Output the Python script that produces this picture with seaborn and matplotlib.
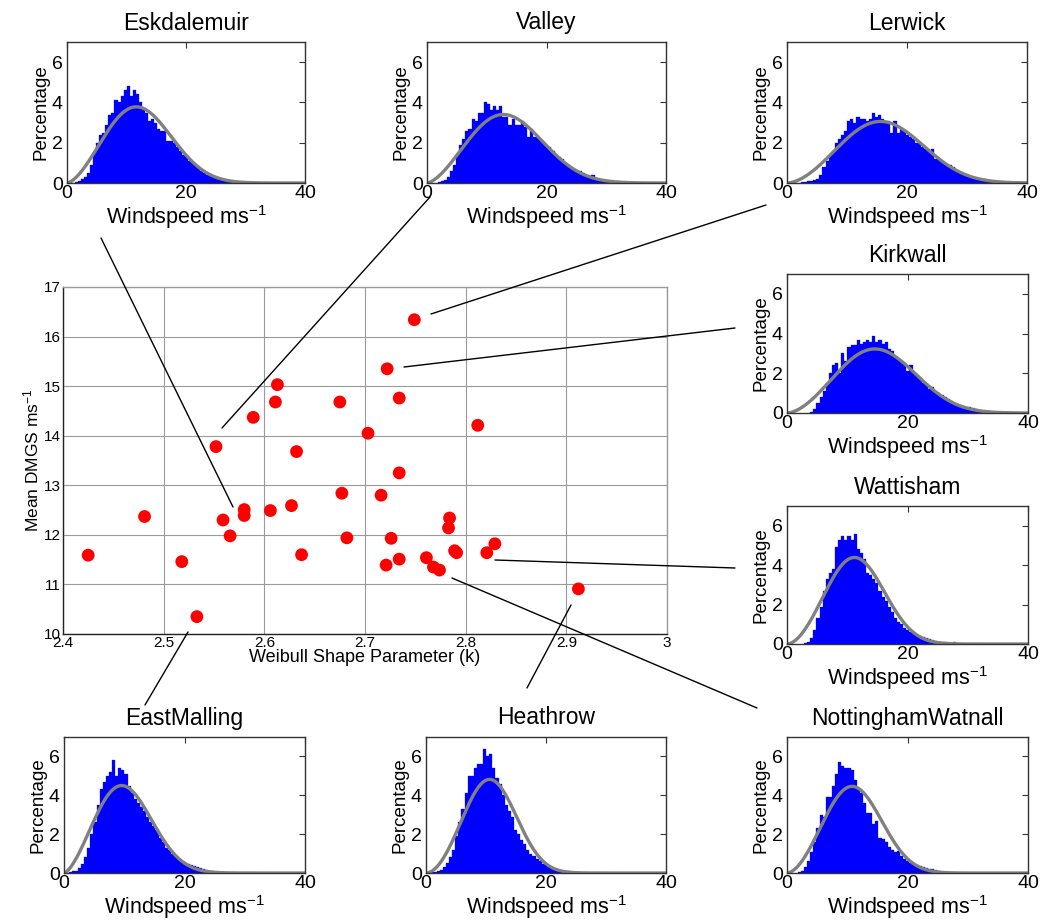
import math
import numpy as np
import pandas as pd
import matplotlib
matplotlib.use("Agg")
import matplotlib.pyplot as plt
from matplotlib.lines import Line2D
import seaborn as sns

# ---------------- data ----------------
KNOT = 0.5144  # histogram bins are 1 knot wide (m/s)

# central scatter: Weibull shape parameter vs mean DMGS for all stations
shape_k = [2.425, 2.481, 2.518, 2.533, 2.552, 2.559, 2.566, 2.580, 2.580, 2.589,
           2.606, 2.613, 2.611, 2.627, 2.632, 2.637, 2.675, 2.677, 2.682, 2.703,
           2.716, 2.722, 2.721, 2.726, 2.734, 2.734, 2.734, 2.749, 2.761, 2.768,
           2.774, 2.784, 2.783, 2.789, 2.791, 2.812, 2.821, 2.829, 2.912]
mean_dmgs = [11.59, 12.37, 11.46, 10.35, 13.78, 12.30, 11.98, 12.51, 12.39, 14.37,
             12.49, 15.03, 14.68, 12.59, 13.68, 11.60, 14.68, 12.84, 11.94, 14.05,
             12.80, 15.35, 11.39, 11.93, 14.76, 13.25, 11.51, 16.34, 11.54, 11.35,
             11.29, 12.34, 12.14, 11.68, 11.64, 14.21, 11.64, 11.82, 10.91]

stations = ["Eskdalemuir", "Valley", "Lerwick", "Kirkwall", "Wattisham",
            "EastMalling", "Heathrow", "NottinghamWatnall"]
station_k = [2.580, 2.552, 2.749, 2.722, 2.821, 2.533, 2.912, 2.774]
station_mean = [12.51, 13.78, 16.34, 15.35, 11.64, 10.35, 10.91, 11.29]
first_knot = [3, 4, 5, 8, 6, 2, 2, 4]

esk_pct = [0.05, 0.1, 0.2, 0.3, 0.5, 0.9, 1.5, 2.0, 2.4, 2.5,
           2.9, 3.4, 3.5, 4.1, 4.0, 4.3, 4.6, 4.8, 4.3, 4.6,
           4.4, 4.0, 3.7, 3.5, 3.1, 3.2, 3.0, 2.7, 2.6, 2.6,
           2.1, 2.1, 2.0, 1.8, 1.6, 1.4, 1.4, 1.1, 1.0, 0.9,
           0.8, 0.6, 0.5, 0.4, 0.35, 0.3, 0.25, 0.2, 0.2, 0.15,
           0.12, 0.1, 0.08, 0.06, 0.05, 0.03, 0.03, 0.02]
valley_pct = [0.05, 0.1, 0.15, 0.3, 0.6, 0.9, 1.4, 1.9, 2.2, 2.6,
              2.7, 3.2, 3.1, 3.5, 3.5, 4.0, 3.9, 3.6, 3.8, 3.6,
              3.8, 3.3, 3.3, 2.9, 3.2, 2.9, 2.9, 3.1, 2.8, 2.3,
              2.7, 2.3, 2.3, 2.2, 2.0, 1.9, 1.8, 1.6, 1.4, 1.3,
              1.2, 1.0, 0.9, 0.8, 0.7, 0.6, 0.6, 0.5, 0.4, 0.35,
              0.4, 0.2, 0.15, 0.12, 0.1, 0.1, 0.08, 0.07, 0.1, 0.05]
lerwick_pct = [0.03, 0.05, 0.08, 0.1, 0.15, 0.2, 0.4, 0.8, 1.1, 1.4,
               1.6, 2.0, 2.2, 2.4, 2.6, 3.1, 3.2, 3.0, 3.3, 3.2,
               3.2, 3.1, 3.2, 3.5, 3.3, 3.4, 3.2, 3.0, 3.1, 2.5,
               3.1, 2.5, 2.7, 2.6, 2.4, 2.3, 2.2, 2.0, 2.0, 1.8,
               1.7, 1.6, 1.7, 1.2, 1.2, 1.1, 1.0, 0.9, 0.9, 0.8,
               0.6, 0.5, 0.45, 0.4, 0.3, 0.25, 0.22, 0.2, 0.2, 0.2,
               0.15, 0.1, 0.1, 0.08, 0.05, 0.05, 0.04, 0.04, 0.05, 0.05, 0.05]
kirkwall_pct = [0.05, 0.2, 0.5, 0.8, 1.1, 1.5, 2.0, 2.4, 2.5, 2.0,
                3.0, 2.6, 3.3, 3.4, 3.4, 3.7, 3.5, 3.6, 3.7, 3.6,
                3.9, 3.6, 3.7, 3.5, 3.6, 3.2, 3.1, 2.8, 2.7, 2.6,
                2.5, 2.1, 2.4, 2.0, 1.9, 1.7, 1.5, 1.4, 1.2, 1.3,
                1.0, 1.0, 0.9, 0.8, 0.7, 0.6, 0.5, 0.45, 0.4, 0.35,
                0.3, 0.28, 0.25, 0.2, 0.15, 0.12, 0.1, 0.08, 0.06, 0.05,
                0.05, 0.05, 0.05, 0.04, 0.04, 0.04]
wattisham_pct = [0.03, 0.1, 0.3, 0.7, 1.3, 1.9, 2.7, 3.3, 3.6, 3.8,
                 4.9, 5.3, 5.5, 5.3, 5.5, 5.3, 5.6, 4.8, 4.6, 4.3,
                 3.6, 3.5, 3.3, 3.1, 2.7, 2.4, 2.2, 1.9, 1.6, 1.3,
                 1.1, 1.0, 0.8, 0.7, 0.6, 0.55, 0.45, 0.4, 0.35, 0.3,
                 0.25, 0.2, 0.15, 0.12, 0.1, 0.08, 0.06, 0.05, 0.1, 0.02]
eastmalling_pct = [0.05, 0.08, 0.12, 0.25, 0.45, 0.8, 1.3, 2.0, 2.6, 3.5,
                   4.3, 4.7, 5.0, 5.2, 5.8, 5.0, 5.4, 5.3, 5.1, 4.5,
                   4.1, 3.8, 3.6, 3.4, 3.2, 2.9, 2.6, 2.4, 2.2, 1.8,
                   1.6, 1.3, 1.2, 1.0, 0.85, 0.7, 0.6, 0.55, 0.45, 0.4,
                   0.35, 0.3, 0.25, 0.2, 0.15, 0.12, 0.1, 0.07, 0.05, 0.03, 0.02]
heathrow_pct = [0.03, 0.05, 0.08, 0.15, 0.3, 0.5, 0.8, 1.2, 1.9, 2.6,
                3.3, 4.1, 5.0, 5.0, 5.4, 5.6, 5.6, 6.4, 6.0, 6.1,
                5.4, 4.9, 4.6, 4.0, 3.5, 3.2, 2.9, 2.2, 2.0, 1.7,
                1.5, 1.2, 1.0, 0.85, 0.7, 0.6, 0.45, 0.4, 0.3, 0.25,
                0.2, 0.15, 0.12, 0.1, 0.08, 0.06, 0.05, 0.04, 0.03]
nottingham_pct = [0.03, 0.1, 0.3, 0.6, 1.1, 1.6, 2.3, 3.0, 2.9, 3.9,
                  3.9, 4.5, 5.1, 5.7, 5.5, 5.4, 5.4, 5.3, 4.8, 4.4,
                  4.1, 3.6, 3.1, 3.1, 2.5, 2.7, 1.8, 1.75, 1.6, 1.35,
                  1.2, 1.1, 1.15, 0.85, 0.7, 0.6, 0.5, 0.45, 0.4, 0.35,
                  0.3, 0.25, 0.22, 0.2, 0.15, 0.1, 0.05, 0.03]
station_pct = [esk_pct, valley_pct, lerwick_pct, kirkwall_pct, wattisham_pct,
               eastmalling_pct, heathrow_pct, nottingham_pct]

# ---------------- layout (pixels: left, top, right, bottom) ----------------
W, H = 1044, 923
panel_px = [(67, 42, 305, 183), (427, 42, 666, 183), (787, 42, 1027, 183),
            (787, 274, 1028, 413), (787, 506, 1028, 644),
            (64, 737, 305, 873), (426, 737, 666, 873), (787, 737, 1028, 873)]
scatter_px = (63, 287, 667, 634)
connectors_px = [(101, 238, 233, 507), (430, 197, 222, 428), (766, 205, 431, 314),
                 (735, 328, 404, 367), (495, 560, 735, 568), (452, 578, 757, 708),
                 (571, 605, 527, 688), (188, 632, 145, 705)]


def rect(l, t, r, b):
    return [l / W, 1 - b / H, (r - l) / W, (b - t) / H]


sns.set_style("white")
plt.rcParams["font.family"] = ["Liberation Sans", "DejaVu Sans"]
plt.rcParams["mathtext.fontset"] = "custom"
plt.rcParams["mathtext.rm"] = "Liberation Sans"
plt.rcParams["mathtext.it"] = "Liberation Sans:italic"
plt.rcParams["mathtext.bf"] = "Liberation Sans:bold"
plt.rcParams["text.color"] = "black"
plt.rcParams["axes.labelcolor"] = "black"
plt.rcParams["axes.titlecolor"] = "black"
plt.rcParams["xtick.color"] = "black"
plt.rcParams["ytick.color"] = "black"

fig = plt.figure(figsize=(W / 100, H / 100), dpi=100)
fig.patch.set_facecolor("white")

xs = np.linspace(0, 40, 401)
for name, k, mu, k0, pct, box in zip(stations, station_k, station_mean,
                                     first_knot, station_pct, panel_px):
    ax = fig.add_axes(rect(*box))
    n = len(pct)
    hist_df = pd.DataFrame({"speed": (k0 + np.arange(n)) * KNOT,
                            "pct": np.asarray(pct, dtype=float)})
    edges = [float(e) for e in (k0 - 0.5 + np.arange(n + 1)) * KNOT]
    sns.histplot(data=hist_df, x="speed", weights="pct", bins=edges, ax=ax,
                 color="#0000ff", alpha=1, edgecolor="#0000ff", linewidth=0.2)
    lam = mu / math.gamma(1 + 1 / k)
    pdf = (k / lam) * (xs / lam) ** (k - 1) * np.exp(-(xs / lam) ** k)
    curve_df = pd.DataFrame({"speed": xs, "pct": pdf * 100 * KNOT})
    sns.lineplot(data=curve_df, x="speed", y="pct", ax=ax, color="#808080",
                 linewidth=2.4, estimator=None)
    ax.set_xlim(0, 40)
    ax.set_ylim(0, 7)
    ax.set_xticks([0, 20, 40])
    ax.set_yticks([0, 2, 4, 6])
    ax.tick_params(direction="in", top=True, right=True, length=4,
                   labelsize=14, color="#333333", labelcolor="black")
    ax.tick_params(axis="x", pad=1.5)
    ax.tick_params(axis="y", pad=3)
    for sp in ax.spines.values():
        sp.set_color("#333333")
        sp.set_linewidth(1.0)
    ax.set_title(name, fontsize=16.5, pad=9, color="black")
    ax.set_xlabel("Windspeed ms$^{-1}$", fontsize=15.5, labelpad=0.5)
    ax.set_ylabel("Percentage", fontsize=13.5, labelpad=2)

# central scatter
sax = fig.add_axes(rect(*scatter_px))
scat_df = pd.DataFrame({"k": shape_k, "mean": mean_dmgs})
sns.scatterplot(data=scat_df, x="k", y="mean", ax=sax, color="#ff0000", s=85,
                edgecolor="none", zorder=3)
sax.set_xlim(2.4, 3.0)
sax.set_ylim(10, 17)
xt = [2.4, 2.5, 2.6, 2.7, 2.8, 2.9, 3.0]
sax.set_xticks(xt)
sax.set_xticklabels(["2.4", "2.5", "2.6", "2.7", "2.8", "2.9", "3"])
sax.set_yticks(range(10, 18))
sax.grid(True, color="#9a9a9a", linewidth=0.8)
sax.set_axisbelow(True)
sax.tick_params(direction="in", length=3, labelsize=11, pad=1.5,
                color="#333333", labelcolor="black")
for side, sp in sax.spines.items():
    sp.set_color("#222222" if side in ("left", "bottom") else "#9a9a9a")
    sp.set_linewidth(1.0)
sax.set_xlabel("Weibull Shape Parameter (k)", fontsize=13, labelpad=-1)
sax.set_ylabel("Mean DMGS ms$^{-1}$", fontsize=12.5, labelpad=2)

for x1, y1, x2, y2 in connectors_px:
    fig.add_artist(Line2D([x1 / W, x2 / W], [1 - y1 / H, 1 - y2 / H],
                          transform=fig.transFigure, color="black",
                          linewidth=1.0, zorder=10))

fig.savefig("out.png", dpi=100, facecolor="white")
